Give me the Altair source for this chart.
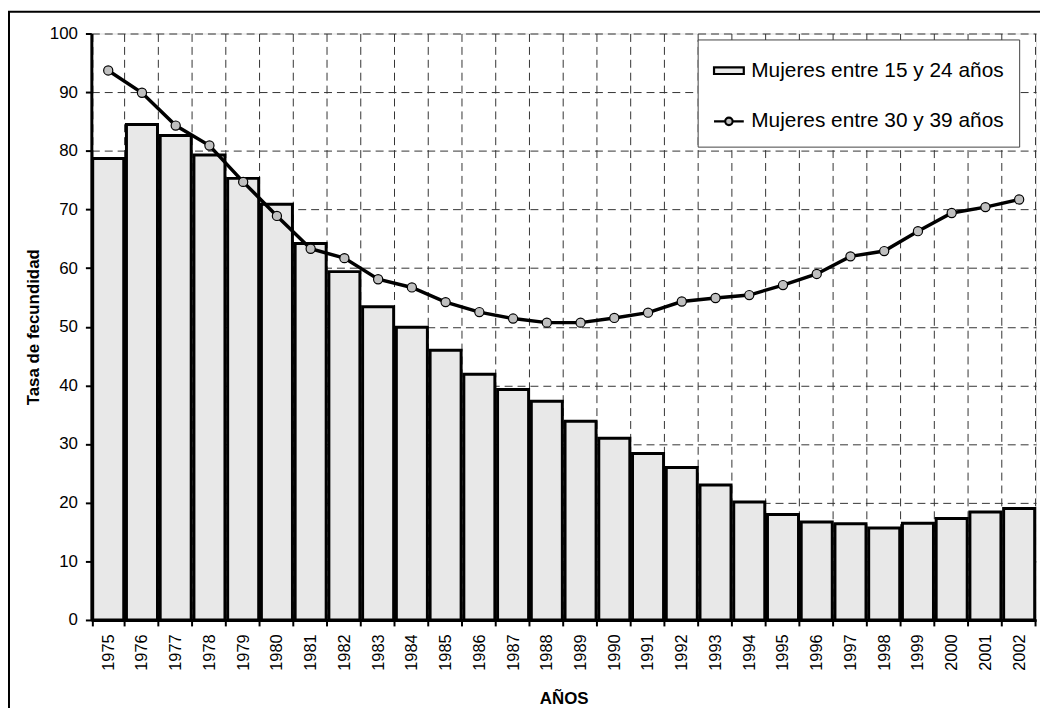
import altair as alt
import pandas as pd

years = [str(y) for y in range(1975, 2003)]
serie_a = "Mujeres entre 15 y 24 años"
serie_b = "Mujeres entre 30 y 39 años"
tasa_15_24 = [78.7, 84.5, 82.6, 79.3, 75.3, 70.9, 64.2, 59.4, 53.4, 49.9,
              46.0, 41.9, 39.3, 37.3, 33.9, 31.0, 28.4, 26.0, 23.0, 20.1,
              18.0, 16.7, 16.4, 15.7, 16.5, 17.3, 18.4, 19.0]
tasa_30_39 = [93.7, 89.9, 84.3, 80.9, 74.7, 68.9, 63.3, 61.7, 58.1, 56.7,
              54.2, 52.5, 51.4, 50.7, 50.7, 51.5, 52.4, 54.3, 54.9, 55.4,
              57.1, 59.0, 62.0, 62.9, 66.3, 69.4, 70.4, 71.7]

df = pd.DataFrame({"year": years, "a": tasa_15_24, "b": tasa_30_39})
leg_df = pd.DataFrame({"serie": [serie_a, serie_b]})

FONT = "Liberation Sans"
W, H = 952, 591

x_enc = alt.X(
    "year:N",
    sort=years,
    scale=alt.Scale(paddingInner=0.08, paddingOuter=0.04),
    axis=alt.Axis(
        title="AÑOS", labelAngle=-90, tickBand="extent", grid=True,
        gridDash=[8, 5], gridColor="#333333", gridWidth=1,
        domainColor="black", domainWidth=3, tickColor="black", tickWidth=2,
        tickSize=6, labelFontSize=16.5, labelPadding=8, labelColor="black",
        titleFontSize=17, titleFontWeight="bold", titleColor="black",
        titlePadding=20, labelFont=FONT, titleFont=FONT,
    ),
)
y_scale = alt.Scale(domain=[0, 100], nice=False)
y_axis = alt.Axis(
    title="Tasa de fecundidad", values=list(range(0, 101, 10)), grid=True,
    gridDash=[8, 5], gridColor="#333333", gridWidth=1,
    domainColor="black", domainWidth=3, tickColor="black", tickWidth=2,
    tickSize=6, labelFontSize=17, labelPadding=8, labelColor="black",
    titleFontSize=17, titleFontWeight="bold", titleColor="black",
    titlePadding=7, labelFont=FONT, titleFont=FONT,
)

base = alt.Chart(df)
bars = base.mark_bar(fill="#e8e8e8", stroke="black", strokeWidth=3).encode(
    x=x_enc, y=alt.Y("a:Q", scale=y_scale, axis=y_axis)
)
line = base.mark_line(color="black", strokeWidth=3.5).encode(
    x=alt.X("year:N", sort=years), y=alt.Y("b:Q")
)
points = base.mark_point(
    filled=True, fill="#c0c0c0", stroke="black", strokeWidth=1.2,
    size=85, shape="circle", opacity=1,
).encode(x=alt.X("year:N", sort=years), y=alt.Y("b:Q"))

rect_path = "M-1,-0.22H1V0.22H-1Z"
line_path = ("M-1,0H-0.25M0.25,0H1M-0.25,0A0.25,0.25 0 1,1 0.25,0"
             "A0.25,0.25 0 1,1 -0.25,0Z")
dom = [serie_a, serie_b]
leg = alt.Legend(
    title=None, orient="none", legendX=611, legendY=6,
    fillColor="white", strokeColor="#444444", padding=15,
    rowPadding=24, symbolSize=900, labelFontSize=21, labelLimit=400,
    labelFont=FONT, labelColor="black", labelOffset=6,
    symbolStrokeWidth=2.2, symbolOpacity=1,
)
legend_layer = alt.Chart(leg_df).transform_filter("false").mark_point(
    filled=True, strokeWidth=2.2
).encode(
    fill=alt.Fill("serie:N", scale=alt.Scale(domain=dom,
                                             range=["#e8e8e8", "#c0c0c0"]),
                  legend=leg),
    stroke=alt.Stroke("serie:N", scale=alt.Scale(domain=dom,
                                                 range=["black", "black"]),
                      legend=leg),
    shape=alt.Shape("serie:N", scale=alt.Scale(domain=dom,
                                               range=[rect_path, line_path]),
                    legend=leg),
)

frame = alt.Chart(pd.DataFrame({"f": [0]})).mark_rect(
    fillOpacity=0, stroke="black", strokeWidth=2
).encode(
    x=alt.value(-83), x2=alt.value(960), y=alt.value(-22), y2=alt.value(690)
)

chart = alt.layer(bars, line, points, legend_layer, frame).properties(
    width=W, height=H,
    autosize=alt.AutoSizeParams(type="none"),
    padding={"left": 84, "top": 23, "right": 4, "bottom": 86},
).configure_view(stroke=None).configure(font=FONT)

chart.save("out.html", embed_options={"renderer": "svg", "actions": False})
